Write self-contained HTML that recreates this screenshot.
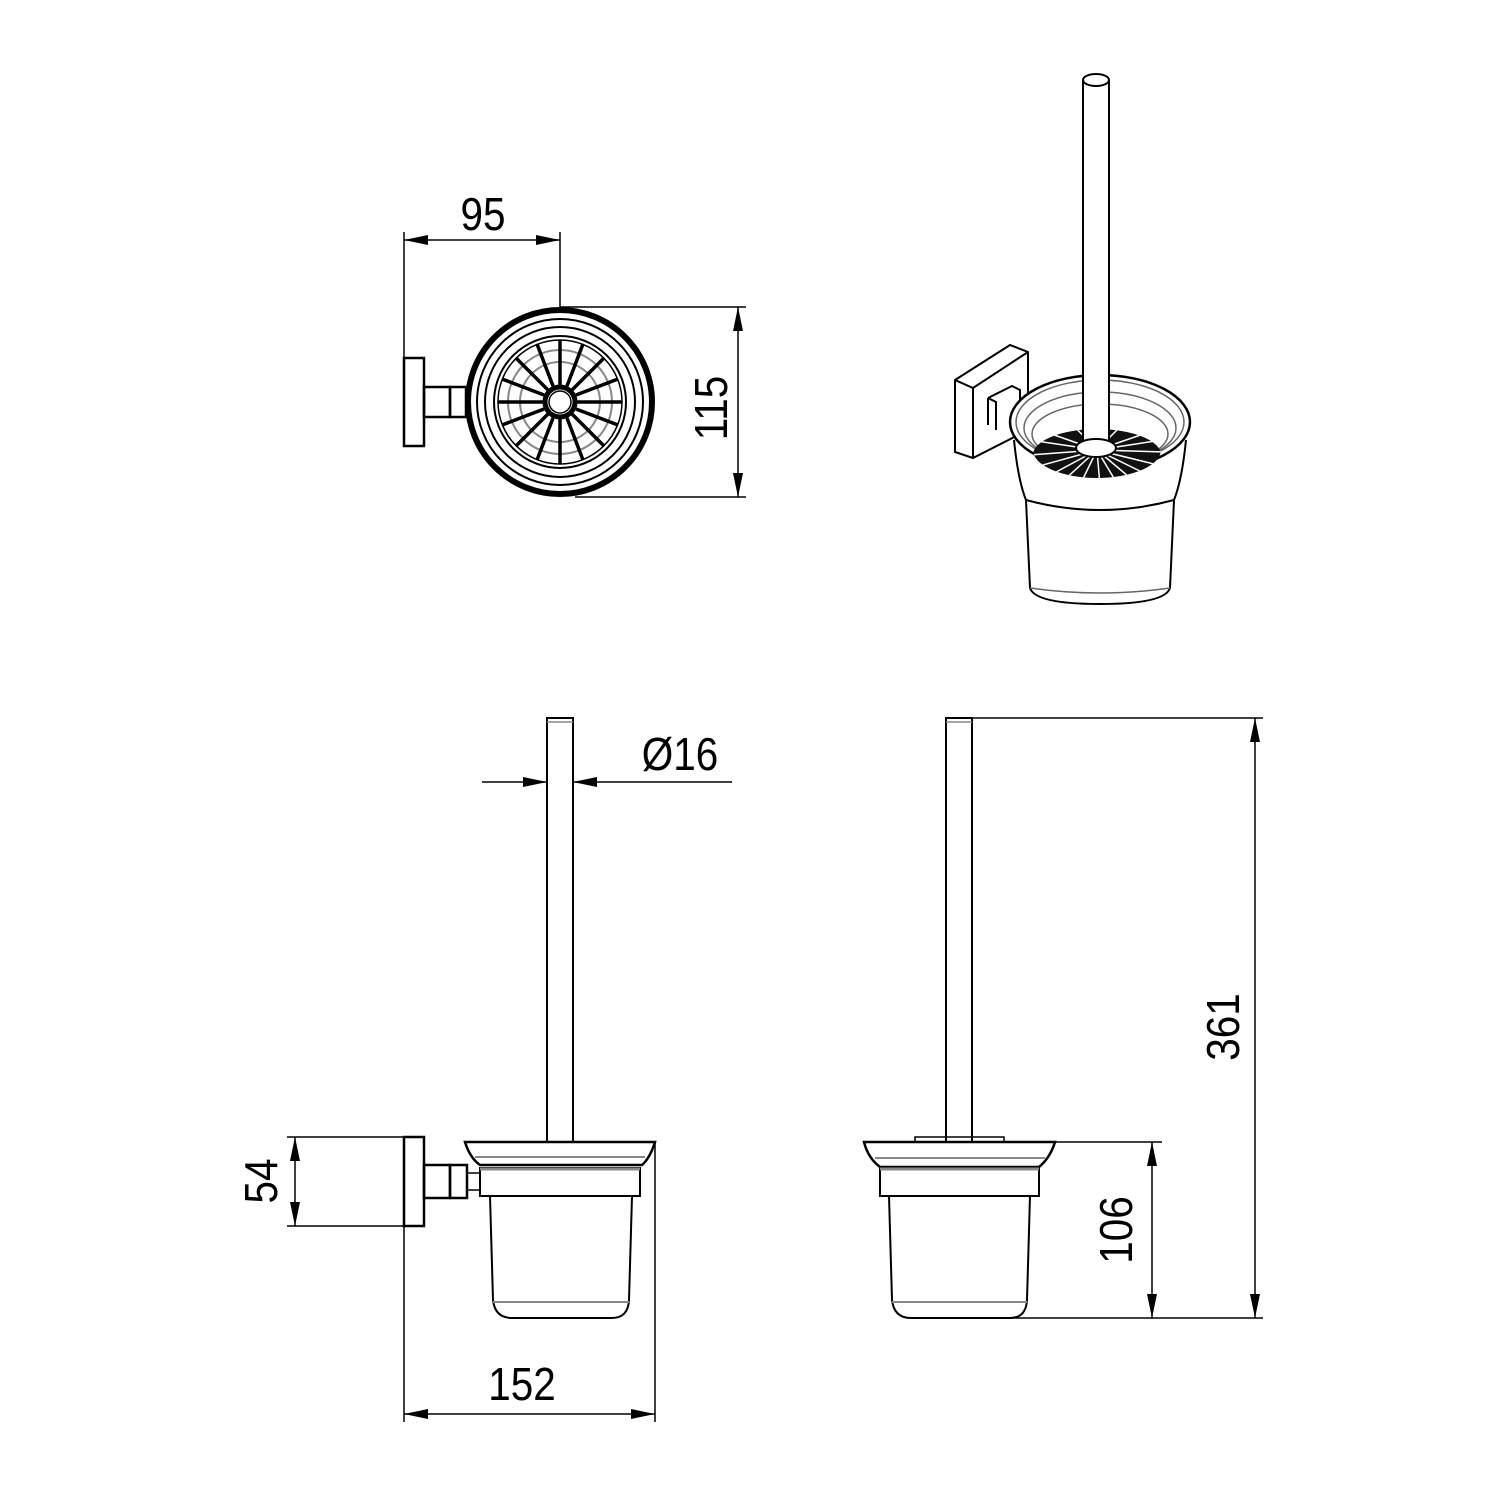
<!DOCTYPE html>
<html><head><meta charset="utf-8"><style>
html,body{margin:0;padding:0;background:#fff}
svg{display:block}
text{font-family:"Liberation Sans",sans-serif;font-size:46px;fill:#000}
</style></head><body>
<svg width="1500" height="1500" viewBox="0 0 1500 1500" xmlns="http://www.w3.org/2000/svg">
<defs>
<marker id="a" viewBox="0 0 24 10" refX="24" refY="5" markerWidth="24" markerHeight="10" markerUnits="userSpaceOnUse" orient="auto-start-reverse">
<path d="M0,0 L24,5 L0,10 Z" fill="#000"/></marker>
<clipPath id="bc"><ellipse cx="1097" cy="450" rx="64" ry="28"/></clipPath>
</defs>
<g fill="none" stroke="#000" stroke-width="1.5">
<!-- TOP LEFT -->
<line x1="404" y1="232" x2="404" y2="358"/>
<line x1="560" y1="232" x2="560" y2="308"/>
<line x1="404" y1="240" x2="560" y2="240" marker-start="url(#a)" marker-end="url(#a)"/>
<line x1="560" y1="307" x2="746" y2="307"/>
<line x1="575" y1="497" x2="746" y2="497"/>
<line x1="738" y1="307" x2="738" y2="497" marker-start="url(#a)" marker-end="url(#a)"/>
<rect x="404" y="358" width="20" height="88" stroke-width="2.5"/>
<rect x="424" y="387" width="26" height="30" stroke-width="2.5"/>
<rect x="450" y="387" width="16" height="30" stroke-width="2.5"/>
<circle cx="560" cy="402" r="92" stroke-width="6"/>
<circle cx="560" cy="402" r="83" stroke-width="2"/>
<circle cx="560" cy="402" r="75" stroke-width="2"/>
<circle cx="560" cy="402" r="66" stroke-width="2"/>
<circle cx="560" cy="402" r="62" stroke-width="1.5"/>
<circle cx="560" cy="402" r="52" stroke="#888" stroke-width="2"/>
<circle cx="560" cy="402" r="40" stroke="#888" stroke-width="2"/>
<g stroke-width="3.5">
<path d="M560,340 L560,385 M560,419 L560,464 M498,402 L543,402 M577,402 L622,402 M516,358 L548,390 M572,414 L604,446 M604,358 L572,390 M548,414 L516,446 M537,344 L553,386 M567,418 L583,460 M583,344 L567,386 M553,418 L537,460 M502,379 L544,395 M576,409 L618,425 M618,379 L576,395 M544,409 L502,425"/>
</g>
<circle cx="560" cy="402" r="15" stroke-width="5"/>
<circle cx="560" cy="402" r="11" stroke-width="1.5"/>

<!-- TOP RIGHT 3D -->
<path d="M955,380 L1010,345 L1028,352 L1028,430 L973,458 L955,452 Z" stroke-width="2"/>
<path d="M955,380 L973,388 L1028,352 M973,388 L973,458" stroke-width="2"/>
<path d="M988,398 L1012,386 L1020,390 L1020,420 M988,398 L996,402 L996,430 M988,398 L988,425" stroke-width="2"/>
<ellipse cx="1100" cy="422" rx="90" ry="47" stroke-width="2.5" fill="#fff"/>
<ellipse cx="1100" cy="422" rx="84" ry="42" stroke="#666"/>
<ellipse cx="1100" cy="428" rx="76" ry="36" stroke="#666"/>
<ellipse cx="1100" cy="434" rx="68" ry="30" stroke="#666"/>
<path d="M1014,440 Q1018,480 1026,500 Q1100,520 1174,500 Q1182,480 1186,440" stroke-width="2"/>
<path d="M1026,500 L1030,588 Q1035,604 1100,604 Q1165,604 1170,588 L1174,500" stroke-width="2"/>
<path d="M1030,588 Q1100,598 1170,588" stroke="#666"/>
<g clip-path="url(#bc)">
<ellipse cx="1097" cy="455" rx="64" ry="26" fill="#111" stroke="none"/>
<path d="M1097,450 L1030,440 M1097,450 L1030,455 M1097,450 L1032,468 M1097,450 L1045,478 M1097,450 L1062,482 M1097,450 L1080,485 M1097,450 L1100,486 M1097,450 L1118,485 M1097,450 L1135,482 M1097,450 L1150,476 M1097,450 L1162,466 M1097,450 L1165,452 M1097,450 L1162,440 M1097,450 L1040,430 M1097,450 L1155,430 M1097,450 L1070,422 M1097,450 L1125,422" stroke="#fff" stroke-width="1.5"/>
</g>
<path d="M1083,80 L1083,448 M1109,80 L1109,448" stroke-width="2"/>
<rect x="1084" y="82" width="24" height="366" fill="#fff" stroke="none"/>
<path d="M1083,80 L1083,448 M1109,80 L1109,448" stroke-width="2"/>
<ellipse cx="1096" cy="80" rx="13" ry="6" stroke-width="2"/>
<ellipse cx="1096" cy="448" rx="20" ry="9" stroke-width="2" fill="#fff"/>

<!-- BOTTOM LEFT -->
<rect x="547" y="718" width="26" height="424" stroke-width="2"/>
<line x1="547" y1="722" x2="573" y2="722" stroke="#888"/>
<line x1="482" y1="782" x2="547" y2="782" marker-end="url(#a)"/>
<line x1="732" y1="782" x2="573" y2="782" marker-end="url(#a)"/>
<path d="M465,1142 L655,1142 Q650,1158 642,1165 L480,1165 Q470,1158 465,1142 Z" stroke-width="2.5" fill="#fff"/>
<line x1="475" y1="1157" x2="645" y2="1157" stroke="#888" stroke-width="2"/>
<rect x="480" y="1168" width="160" height="28" stroke-width="2"/>
<line x1="480" y1="1169" x2="640" y2="1169" stroke="#888" stroke-width="3"/>
<path d="M490,1196 L493,1300 Q495,1318 512,1318 L612,1318 Q628,1318 629,1300 L632,1196" stroke-width="2"/>
<line x1="493" y1="1302" x2="629" y2="1302" stroke="#888" stroke-width="2"/>
<rect x="404" y="1137" width="20" height="89" stroke-width="2.5"/>
<rect x="424" y="1165" width="26" height="33" stroke-width="2.5"/>
<rect x="450" y="1165" width="17" height="33" stroke-width="2.5"/>
<rect x="467" y="1173" width="13" height="17" stroke-width="1.5"/>
<line x1="287" y1="1137" x2="404" y2="1137"/>
<line x1="287" y1="1226" x2="404" y2="1226"/>
<line x1="295" y1="1137" x2="295" y2="1226" marker-start="url(#a)" marker-end="url(#a)"/>
<line x1="404" y1="1226" x2="404" y2="1422"/>
<line x1="655" y1="1142" x2="655" y2="1422"/>
<line x1="404" y1="1414" x2="655" y2="1414" marker-start="url(#a)" marker-end="url(#a)"/>

<!-- BOTTOM RIGHT -->
<rect x="946" y="718" width="26" height="424" stroke-width="2"/>
<line x1="946" y1="722" x2="972" y2="722" stroke="#888"/>
<path d="M915,1142 L915,1137 L1004,1137 L1004,1142" stroke-width="1.5"/>
<path d="M864,1142 L1055,1142 Q1050,1158 1039,1167 L880,1167 Q868,1158 864,1142 Z" stroke-width="2.5" fill="#fff"/>
<line x1="875" y1="1158" x2="1045" y2="1158" stroke="#888" stroke-width="2"/>
<rect x="880" y="1168" width="159" height="28" stroke-width="2"/>
<line x1="880" y1="1169" x2="1039" y2="1169" stroke="#888" stroke-width="3"/>
<path d="M889,1196 L892,1300 Q894,1318 911,1318 L1010,1318 Q1026,1318 1027,1300 L1030,1196" stroke-width="2"/>
<line x1="892" y1="1302" x2="1027" y2="1302" stroke="#888" stroke-width="2"/>
<line x1="972" y1="718" x2="1263" y2="718"/>
<line x1="1055" y1="1142" x2="1162" y2="1142"/>
<line x1="1010" y1="1318" x2="1263" y2="1318"/>
<line x1="1152" y1="1142" x2="1152" y2="1318" marker-start="url(#a)" marker-end="url(#a)"/>
<line x1="1255" y1="718" x2="1255" y2="1318" marker-start="url(#a)" marker-end="url(#a)"/>
</g>
<text transform="translate(483,230) scale(0.88,1)" text-anchor="middle">95</text>
<text transform="translate(727,408) rotate(-90) scale(0.88,1)" text-anchor="middle">115</text>
<text transform="translate(680,770) scale(0.88,1)" text-anchor="middle">Ø16</text>
<text transform="translate(277,1181) rotate(-90) scale(0.88,1)" text-anchor="middle">54</text>
<text transform="translate(522,1400) scale(0.88,1)" text-anchor="middle">152</text>
<text transform="translate(1132,1230) rotate(-90) scale(0.88,1)" text-anchor="middle">106</text>
<text transform="translate(1239,1027) rotate(-90) scale(0.88,1)" text-anchor="middle">361</text>
</svg>
</body></html>
